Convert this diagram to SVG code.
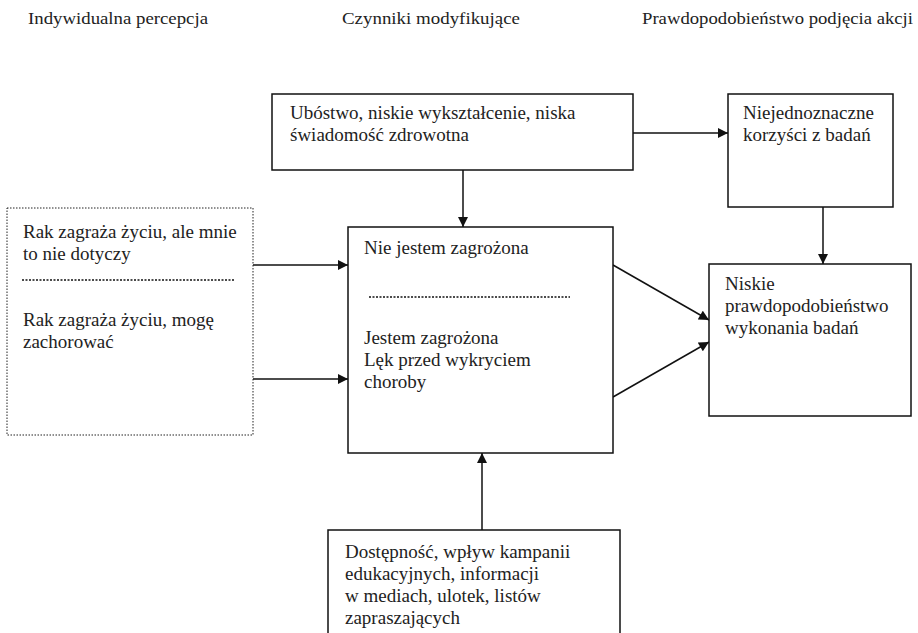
<svg xmlns="http://www.w3.org/2000/svg" width="918" height="633" viewBox="0 0 918 633">
<defs>
<style>
.t{font-family:'Liberation Serif','Times New Roman',Times,serif;font-size:19px;fill:#222}
.h{font-family:'Liberation Serif','Times New Roman',Times,serif;font-size:17px;fill:#222}
.box{fill:#fff;stroke:#111;stroke-width:1.5}
.dot{fill:none;stroke:#222;stroke-width:1;stroke-dasharray:1.5 1.5}
.sep{stroke:#111;stroke-width:1.5;stroke-dasharray:2 1.5}
.con{stroke:#111;stroke-width:1.5;fill:none;marker-end:url(#ah)}
</style>
<marker id="ah" viewBox="0 0 10 10" refX="10" refY="5" markerWidth="11" markerHeight="10" markerUnits="userSpaceOnUse" orient="auto"><path d="M0,0 L10,5 L0,10 z" fill="#111"/></marker>
</defs>
<rect width="918" height="633" fill="#fff"/>
<g id="headers" class="h">
<text x="28" y="24" textLength="180" lengthAdjust="spacingAndGlyphs">Indywidualna percepcja</text>
<text x="342" y="24" textLength="178" lengthAdjust="spacingAndGlyphs">Czynniki modyfikujące</text>
<text x="642" y="24" textLength="271" lengthAdjust="spacingAndGlyphs">Prawdopodobieństwo podjęcia akcji</text>
</g>
<g id="connectors">
<line class="con" x1="463" y1="170" x2="463" y2="227"/>
<line class="con" x1="633" y1="133" x2="728" y2="133"/>
<line class="con" x1="823" y1="207" x2="823" y2="264"/>
<line class="con" x1="253" y1="265" x2="348" y2="265"/>
<line class="con" x1="253" y1="379" x2="348" y2="379"/>
<line class="con" x1="613" y1="265" x2="709" y2="320"/>
<line class="con" x1="613" y1="397" x2="709" y2="342"/>
<line class="con" x1="482" y1="530" x2="482" y2="453"/>
</g>
<g id="node-top" class="t">
<rect class="box" x="272" y="94" width="361" height="76"/>
<text x="290" y="119">Ubóstwo, niskie wykształcenie, niska</text>
<text x="290" y="141">świadomość zdrowotna</text>
</g>
<g id="node-benefits" class="t">
<rect class="box" x="728" y="94" width="165" height="113"/>
<text x="743" y="119">Niejednoznaczne</text>
<text x="743" y="141">korzyści z badań</text>
</g>
<g id="node-perception" class="t">
<rect class="dot" x="7" y="208" width="246" height="227"/>
<text x="23" y="238">Rak zagraża życiu, ale mnie</text>
<text x="23" y="260">to nie dotyczy</text>
<line class="sep" x1="22" y1="280" x2="235" y2="280"/>
<text x="23" y="326">Rak zagraża życiu, mogę</text>
<text x="23" y="348">zachorować</text>
</g>
<g id="node-center" class="t">
<rect class="box" x="348" y="227" width="265" height="226"/>
<text x="364" y="254">Nie jestem zagrożona</text>
<line class="sep" x1="369" y1="297" x2="570" y2="297"/>
<text x="364" y="344">Jestem zagrożona</text>
<text x="364" y="366">Lęk przed wykryciem</text>
<text x="364" y="388">choroby</text>
</g>
<g id="node-low" class="t">
<rect class="box" x="709" y="264" width="202" height="152"/>
<text x="725" y="290">Niskie</text>
<text x="725" y="312">prawdopodobieństwo</text>
<text x="725" y="334">wykonania badań</text>
</g>
<g id="node-bottom" class="t">
<rect class="box" x="328" y="530" width="292" height="110"/>
<text x="345" y="558">Dostępność, wpływ kampanii</text>
<text x="345" y="580">edukacyjnych, informacji</text>
<text x="345" y="602">w mediach, ulotek, listów</text>
<text x="345" y="624">zapraszających</text>
</g>
</svg>
